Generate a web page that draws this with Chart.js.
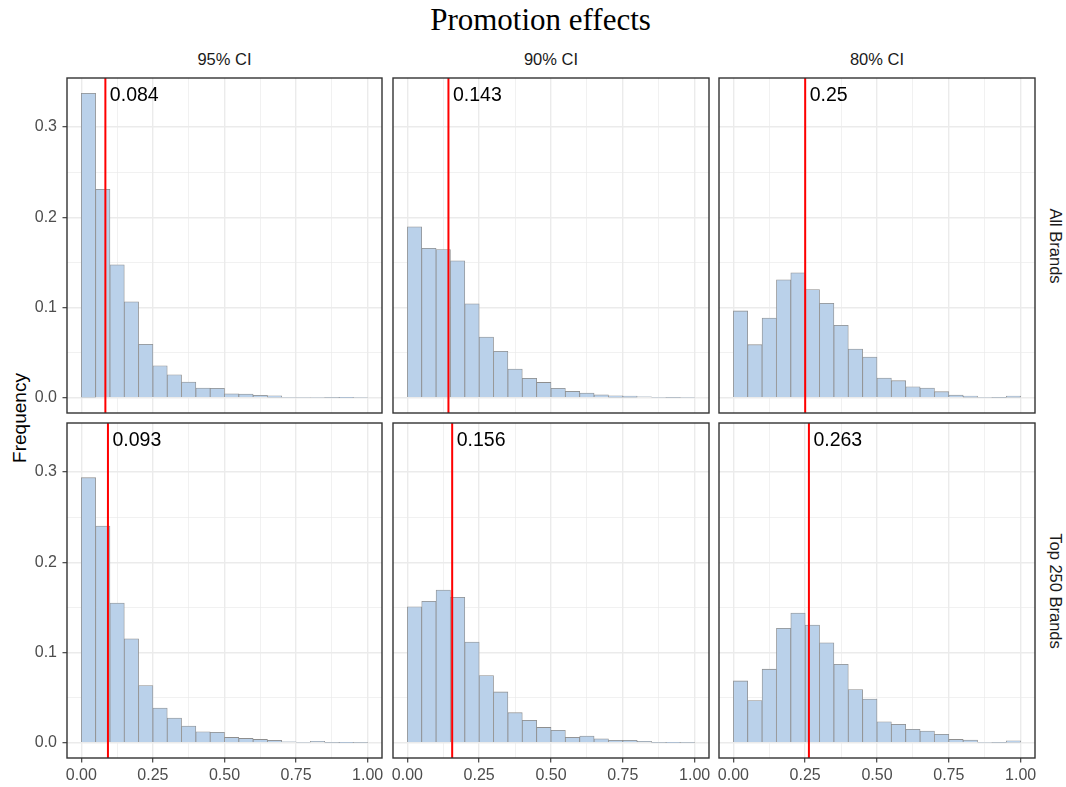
<!DOCTYPE html>
<html>
<head>
<meta charset="utf-8">
<script src="https://cdn.jsdelivr.net/npm/chart.js@4.4.1/dist/chart.umd.min.js"></script>
<style>
    html, body { margin: 0; padding: 0; background: #fff; overflow: hidden; }
    #wrap { position: relative; width: 1066px; height: 787px; background: #fff; font-family: "Liberation Sans", Arial, sans-serif; overflow: hidden; }
    #wrap canvas { position: absolute; }
    .txt { position: absolute; white-space: nowrap; line-height: 1; }
    #title { font-family: "Liberation Serif", "Times New Roman", serif; font-size: 31px; color: #000; left: 0; width: 1081px; text-align: center; top: 4px; }
    .strip { font-size: 16.5px; color: #1A1A1A; text-align: center; top: 51px; }
    .rstrip { font-size: 16.5px; color: #1A1A1A; transform: translate(-50%, -50%) rotate(90deg); }
    #ylab { font-size: 19px; color: #000; left: 18.7px; top: 418px; transform: translate(-50%, -50%) rotate(-90deg); }
</style>
</head>
<body>
<div id="wrap">
    <div id="title" class="txt">Promotion effects</div>
    <div id="ylab" class="txt">Frequency</div>
</div>
<script>
(function() {
    'use strict';

    // histogram bins (width 0.05 on 0..1)
    const binCenters = [0.025, 0.075, 0.125, 0.175, 0.225, 0.275, 0.325, 0.375, 0.425, 0.475,
                        0.525, 0.575, 0.625, 0.675, 0.725, 0.775, 0.825, 0.875, 0.925, 0.975];

    const ciLevels = ['95% CI', '90% CI', '80% CI'];
    const brandGroups = ['All Brands', 'Top 250 Brands'];

    const allBrands95 = [0.3374, 0.2309, 0.1472, 0.1062, 0.0592, 0.0355, 0.0255, 0.0174, 0.0107, 0.0104,
                         0.0044, 0.0041, 0.0026, 0.0022, 0.0007, 0.0007, 0.0007, 0.0004, 0.0002, 0.0007];
    const allBrands90 = [0.1894, 0.1657, 0.1643, 0.1517, 0.1040, 0.0673, 0.0514, 0.0318, 0.0215, 0.0170,
                         0.0104, 0.0070, 0.0052, 0.0033, 0.0022, 0.0018, 0.0011, 0.0007, 0.0004, 0.0007];
    const allBrands80 = [0.0962, 0.0588, 0.0884, 0.1306, 0.1384, 0.1199, 0.1047, 0.0803, 0.0540, 0.0451,
                         0.0218, 0.0189, 0.0122, 0.0107, 0.0067, 0.0030, 0.0018, 0.0007, 0.0004, 0.0018];
    const top250_95 = [0.2937, 0.2400, 0.1548, 0.1152, 0.0633, 0.0385, 0.0274, 0.0185, 0.0122, 0.0115,
                       0.0059, 0.0048, 0.0037, 0.0026, 0.0011, 0.0007, 0.0015, 0.0004, 0.0002, 0.0004];
    const top250_90 = [0.1507, 0.1567, 0.1693, 0.1611, 0.1115, 0.0744, 0.0563, 0.0333, 0.0248, 0.0170,
                       0.0137, 0.0059, 0.0074, 0.0044, 0.0026, 0.0026, 0.0015, 0.0004, 0.0002, 0.0004];
    const top250_80 = [0.0685, 0.0467, 0.0815, 0.1267, 0.1437, 0.1304, 0.1107, 0.0870, 0.0589, 0.0485,
                       0.0233, 0.0204, 0.0148, 0.0130, 0.0093, 0.0037, 0.0030, 0.0007, 0.0004, 0.0022];

    const allBrandsCutoffs = [0.084, 0.143, 0.25];
    const top250Cutoffs = [0.093, 0.156, 0.263];

    const xTicksMajor = [0, 0.25, 0.5, 0.75, 1];
    const xTickLabels = ['0.00', '0.25', '0.50', '0.75', '1.00'];
    const xTicksMinor = [0.125, 0.375, 0.625, 0.875];
    const yTicksMajor = [0, 0.1, 0.2, 0.3];
    const yTickLabels = ['0.0', '0.1', '0.2', '0.3'];
    const yTicksMinor = [0.05, 0.15, 0.25];

    const xMin = -0.05, xMax = 1.05;
    const yMin = -0.0169, yMax = 0.3543;

    // page layout
    const panelLeft = [67, 393, 719];
    const panelW = [315, 316, 316];
    const panelTop = [78, 423];
    const panelH = 335;
    const PAD = 24, Y_AXIS_W = 37, X_AXIS_H = 30;

    const wrap = document.getElementById('wrap');

    const panelBorder = {
        id: 'panelBorder',
        afterDraw: function(chart) {
            const a = chart.chartArea, c = chart.ctx;
            c.save();
            c.strokeStyle = '#333333';
            c.lineWidth = 1.4;
            c.strokeRect(a.left, a.top, a.right - a.left, a.bottom - a.top);
            c.restore();
        }
    };

    const cutoffLabel = {
        id: 'cutoffLabel',
        afterDatasetsDraw: function(chart, args, opts) {
            const c = chart.ctx;
            const x = chart.scales.x.getPixelForValue(opts.value);
            c.save();
            c.fillStyle = '#000';
            c.font = '19.5px "Liberation Sans", Arial, sans-serif';
            c.textBaseline = 'alphabetic';
            c.textAlign = 'left';
            c.fillText(String(opts.value), x + 4.5, chart.chartArea.top + 22.7);
            c.restore();
        }
    };

    function tickList(major, minor) {
        return major.concat(minor).sort(function(a, b) { return a - b; })
            .map(function(v) { return { value: v }; });
    }

    function makePanel(row, col, values, cutoff) {
        const showY = col === 0;
        const showX = row === brandGroups.length - 1;
        const w = panelW[col] + 2 * PAD + (showY ? Y_AXIS_W : 0);
        const h = panelH + 2 * PAD + (showX ? X_AXIS_H : 0);

        const canvas = document.createElement('canvas');
        canvas.width = w;
        canvas.height = h;
        canvas.style.width = w + 'px';
        canvas.style.height = h + 'px';
        canvas.style.left = (panelLeft[col] - PAD - (showY ? Y_AXIS_W : 0)) + 'px';
        canvas.style.top = (panelTop[row] - PAD) + 'px';
        wrap.appendChild(canvas);

        new Chart(canvas, {
            type: 'bar',
            data: {
                datasets: [{
                    type: 'line',
                    data: [{ x: cutoff, y: yMin }, { x: cutoff, y: yMax }],
                    borderColor: '#FF0000',
                    borderWidth: 2,
                    pointRadius: 0,
                    order: 0,
                }, {
                    data: binCenters.map(function(x, i) { return { x: x, y: values[i] }; }),
                    backgroundColor: 'rgb(186, 209, 234)',
                    borderColor: '#8E8E8E',
                    borderWidth: 0.8,
                    categoryPercentage: 1,
                    barPercentage: 1,
                    order: 1,
                }],
            },
            options: {
                responsive: false,
                animation: false,
                devicePixelRatio: 1,
                layout: { padding: PAD },
                plugins: {
                    legend: { display: false },
                    tooltip: { enabled: false },
                    cutoffLabel: { value: cutoff },
                },
                scales: {
                    x: {
                        type: 'linear',
                        min: xMin,
                        max: xMax,
                        offset: false,
                        afterBuildTicks: function(axis) { axis.ticks = tickList(xTicksMajor, xTicksMinor); },
                        afterFit: function(s) { s.height = showX ? X_AXIS_H : 0; },
                        border: { display: false },
                        grid: {
                            offset: false,
                            color: '#EBEBEB',
                            lineWidth: function(ctx) { return xTicksMajor.indexOf(ctx.tick.value) >= 0 ? 1.4 : 0.7; },
                            drawTicks: showX,
                            tickLength: 4.5,
                            tickWidth: 1.1,
                            tickColor: function(ctx) { return xTicksMajor.indexOf(ctx.tick.value) >= 0 ? '#333333' : 'rgba(0,0,0,0)'; },
                        },
                        ticks: {
                            display: showX,
                            autoSkip: false,
                            maxRotation: 0,
                            padding: 3,
                            color: '#4D4D4D',
                            font: { size: 16 },
                            callback: function(value) {
                                const i = xTicksMajor.indexOf(value);
                                return i >= 0 ? xTickLabels[i] : '';
                            },
                        },
                    },
                    y: {
                        type: 'linear',
                        min: yMin,
                        max: yMax,
                        afterBuildTicks: function(axis) { axis.ticks = tickList(yTicksMajor, yTicksMinor); },
                        afterFit: function(s) { s.width = showY ? Y_AXIS_W : 0; },
                        border: { display: false },
                        grid: {
                            color: '#EBEBEB',
                            lineWidth: function(ctx) { return yTicksMajor.indexOf(ctx.tick.value) >= 0 ? 1.4 : 0.7; },
                            drawTicks: showY,
                            tickLength: 4.5,
                            tickWidth: 1.1,
                            tickColor: function(ctx) { return yTicksMajor.indexOf(ctx.tick.value) >= 0 ? '#333333' : 'rgba(0,0,0,0)'; },
                        },
                        ticks: {
                            display: showY,
                            autoSkip: false,
                            padding: 5.5,
                            color: '#4D4D4D',
                            font: { size: 16 },
                            callback: function(value) {
                                const i = yTicksMajor.indexOf(value);
                                return i >= 0 ? yTickLabels[i] : '';
                            },
                        },
                    },
                },
            },
            plugins: [panelBorder, cutoffLabel],
        });
    }

    function addText(cls, text, style) {
        const el = document.createElement('div');
        el.className = 'txt ' + cls;
        el.textContent = text;
        Object.keys(style).forEach(function(k) { el.style[k] = style[k]; });
        wrap.appendChild(el);
    }

    Chart.defaults.font.family = '"Liberation Sans", Arial, sans-serif';

    const panelData = [
        [allBrands95, allBrands90, allBrands80],
        [top250_95, top250_90, top250_80],
    ];
    const panelCutoffs = [allBrandsCutoffs, top250Cutoffs];

    ciLevels.forEach(function(label, col) {
        addText('strip', label, { left: panelLeft[col] + 'px', width: panelW[col] + 'px' });
    });
    brandGroups.forEach(function(label, row) {
        addText('rstrip', label, { left: '1056px', top: (panelTop[row] + panelH / 2) + 'px' });
    });

    for (let r = 0; r < brandGroups.length; r++) {
        for (let c = 0; c < ciLevels.length; c++) {
            makePanel(r, c, panelData[r][c], panelCutoffs[r][c]);
        }
    }
})();
</script>
</body>
</html>
